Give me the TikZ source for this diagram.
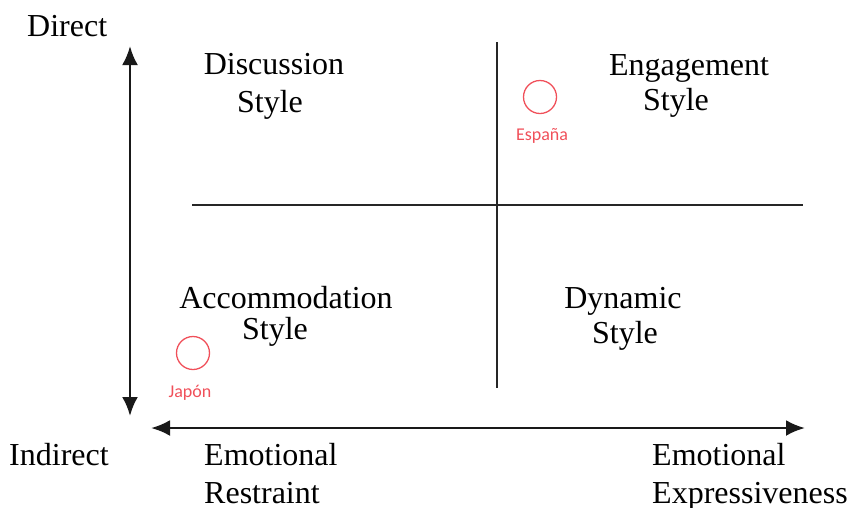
\documentclass[tikz,border=0pt]{standalone}
\usepackage{fontspec}
\setmainfont{Liberation Serif}
\newfontfamily\labfont{Carlito}
\usetikzlibrary{arrows.meta}
\definecolor{mark}{HTML}{F0505A}
\tikzset{
  axis/.style={line width=2.8pt, color=black!90, {Latex[length=19pt,width=16pt]}-{Latex[length=19pt,width=16pt]}},
  divider/.style={line width=2.8pt, color=black!85},
  lbl/.style={inner sep=0pt, anchor=base west, font=\fontsize{32}{38}\selectfont},
  ctr/.style={inner sep=0pt, anchor=base, font=\fontsize{32}{38}\selectfont},
  spot/.style={circle, draw=mark, line width=1.3pt, minimum size=33pt, inner sep=0pt},
  spotlbl/.style={inner sep=0pt, anchor=base, text=mark, font=\labfont\fontsize{18}{21}\selectfont}
}
\begin{document}
\begin{tikzpicture}[x=1pt,y=-1pt]
\useasboundingbox (0,0) rectangle (851,507);
% axes
\coordinate (vt) at (130,46);
\coordinate (vb) at (130,416);
\coordinate (hl) at (151,428);
\coordinate (hr) at (805,428);
\draw[axis] (vb) -- (vt);
\draw[axis] (hl) -- (hr);
% dividers
\coordinate (dt) at (497,42);
\coordinate (db) at (497,388);
\coordinate (dl) at (192,205);
\coordinate (dr) at (803,205);
\draw[divider] (dt) -- (db);
\draw[divider] (dl) -- (dr);
% axis labels
\node[lbl] (direct) at (27,36) {Direct};
\node[lbl] (indirect) at (9,465) {Indirect};
\node[lbl] (emo1) at (204,465) {Emotional};
\node[lbl] (res) at (204,503) {Restraint};
\node[lbl] (emo2) at (652,465) {Emotional};
\node[lbl] (expr) at (652,503) {Expressiveness};
% quadrant labels
\node[ctr] (disc) at (274,74) {Discussion};
\node[ctr] (disc2) at (270,112) {Style};
\node[ctr] (eng) at (689,75) {Engagement};
\node[ctr] (eng2) at (676,110) {Style};
\node[ctr] (acc) at (286,308) {Accommodation};
\node[ctr] (acc2) at (275,339) {Style};
\node[ctr] (dyn) at (623,308) {Dynamic};
\node[ctr] (dyn2) at (625,343) {Style};
% countries
\node[spot] (es) at (540,97) {};
\node[spotlbl] (eslbl) at (542,140) {España};
\node[spot] (jp) at (193,353) {};
\node[spotlbl] (jplbl) at (190,397) {Japón};
\end{tikzpicture}
\end{document}
